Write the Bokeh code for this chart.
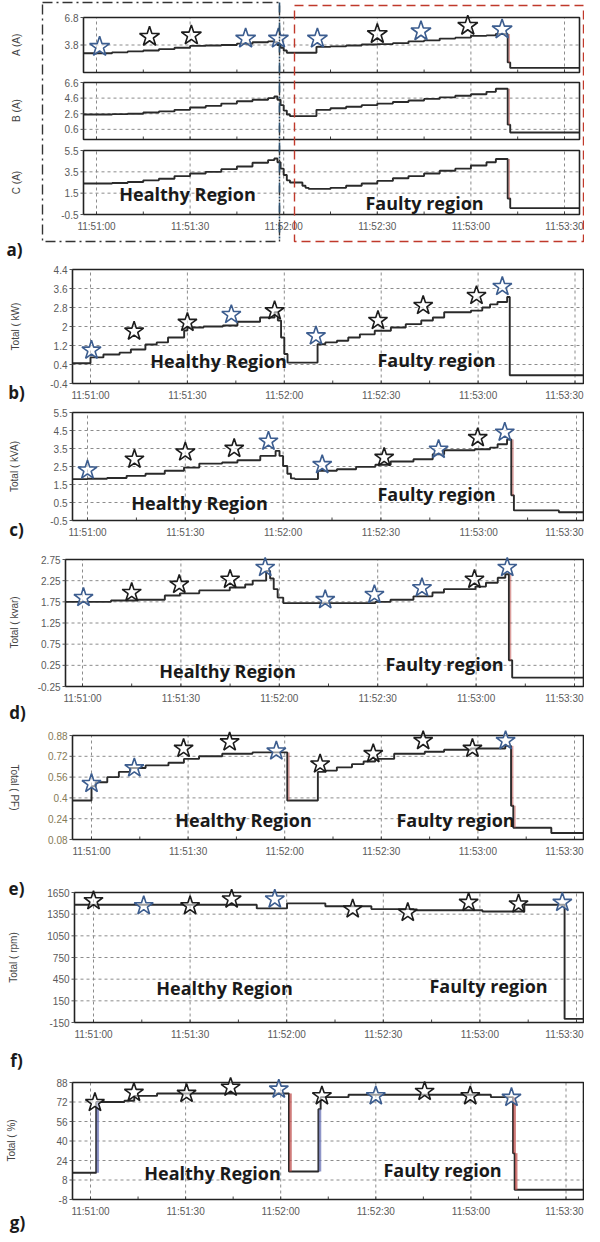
import math
from bokeh.plotting import figure
from bokeh.models import Range1d
from bokeh.embed import file_html
from bokeh.resources import INLINE
from bokeh.core.properties import value

# ---------------- data ----------------
TIME_TICKS = [0, 30, 60, 90, 120, 150]
TIME_LABELS = ["11:51:00", "11:51:30", "11:52:00", "11:52:30", "11:53:00", "11:53:30"]
MINOR_TICKS = [15, 45, 75, 105, 135]

# panel a (phase currents)
A_t = [-4.2, 5, 10, 15, 20, 25, 30, 35, 40, 45, 50, 55, 57, 58, 59, 60, 61, 70.5, 75, 80, 85, 90, 95, 100, 105, 110, 115, 120, 125, 128, 131.8, 132.6, 154.8]
A_v = [2.9, 3.0, 3.1, 3.2, 3.35, 3.5, 3.7, 3.75, 3.8, 3.95, 4.1, 4.2, 4.1, 3.8, 3.5, 3.2, 2.95, 3.6, 3.65, 3.75, 3.85, 3.9, 4.0, 4.2, 4.3, 4.5, 4.6, 4.8, 4.85, 5.0, 1.9, 1.3, 1.3]
B_t = [-4.2, 5, 10, 15, 20, 25, 30, 35, 40, 45, 50, 55, 57, 58, 59, 60, 61, 62, 70.5, 75, 80, 85, 90, 95, 100, 105, 110, 115, 120, 125, 128, 131.8, 132.6, 154.8]
B_v = [2.5, 2.55, 2.6, 2.75, 2.9, 3.1, 3.4, 3.6, 3.9, 4.2, 4.4, 4.6, 4.8, 4.4, 3.7, 3.0, 2.5, 2.3, 3.1, 3.3, 3.5, 3.7, 3.9, 4.1, 4.3, 4.5, 4.7, 4.9, 5.1, 5.4, 5.8, 1.2, 0.2, 0.2]
C_t = [-4.2, 5, 10, 15, 20, 25, 30, 35, 40, 45, 50, 55, 57, 58, 59, 60, 61, 62, 66, 67, 68, 75, 80, 85, 90, 95, 100, 105, 110, 115, 120, 125, 128, 131.8, 132.6, 154.8]
C_v = [2.4, 2.45, 2.55, 2.7, 2.85, 3.1, 3.35, 3.5, 3.75, 4.0, 4.35, 4.6, 4.75, 4.4, 3.8, 3.2, 2.7, 2.5, 2.2, 2.0, 1.9, 2.0, 2.2, 2.4, 2.65, 2.9, 3.1, 3.35, 3.6, 3.8, 4.1, 4.4, 4.7, 1.0, 0.1, 0.1]
A_star_t = [1, 17, 30.4, 47.8, 58.3, 70.8, 90, 104, 119, 130]
A_star_v = [3.6, 4.7, 4.85, 4.5, 4.5, 4.5, 5.0, 5.3, 5.9, 5.5]
A_star_k = list("bkkbbbkbkb")
A_ticks = [3.8, 6.8]
A_tick_labels = ["3.8", "6.8"]
B_ticks = [0.6, 2.6, 4.6, 6.6]
B_tick_labels = ["0.6", "2.6", "4.6", "6.6"]
C_ticks = [-0.5, 1.5, 3.5, 5.5]
C_tick_labels = ["-0.5", "1.5", "3.5", "5.5"]

# panel b (kW)
kW_t = [-5.6, 0, 4, 9, 12.5, 17, 20.5, 24, 29, 30, 35, 41, 45.5, 52.5, 57, 58, 59, 60, 61, 62, 70.3, 72.7, 76.3, 79.8, 83.4, 88, 93, 97.6, 102.4, 106, 109.5, 117.8, 121.3, 123.7, 126, 129, 129.8, 152.6]
kW_v = [0.45, 0.7, 0.82, 0.9, 1.03, 1.24, 1.33, 1.54, 1.83, 1.96, 2.0, 2.04, 2.2, 2.38, 2.6, 2.25, 1.54, 0.84, 0.48, 0.48, 1.25, 1.33, 1.4, 1.54, 1.67, 1.82, 1.96, 2.1, 2.25, 2.38, 2.6, 2.67, 2.8, 2.93, 3.03, 3.24, -0.05, -0.05]
kW_star_t = [0.3, 13.5, 30, 43.6, 57, 69.8, 89, 103, 119.5, 127.5]
kW_star_v = [1.0, 1.8, 2.17, 2.5, 2.66, 1.6, 2.25, 2.88, 3.3, 3.68]
kW_star_k = list("bkkbkbkkkb")
kW_ticks = [-0.4, 0.4, 1.2, 2, 2.8, 3.6, 4.4]
kW_tick_labels = ["-0.4", "0.4", "1.2", "2", "2.8", "3.6", "4.4"]

# panel c (kVA)
kVA_t = [-4.6, 0, 6, 12, 17.8, 23.7, 29.6, 34.3, 41.3, 46, 53, 57.7, 58.9, 60, 61.3, 62.4, 63.6, 70.7, 76.5, 82.4, 88.3, 93, 100, 105.9, 109.4, 118.8, 123.5, 125.8, 128.7, 130, 130.8, 144.6, 152.1]
kVA_v = [1.8, 1.82, 1.86, 1.98, 2.1, 2.26, 2.44, 2.66, 2.72, 2.85, 3.09, 3.37, 3.09, 2.53, 2.1, 1.84, 1.8, 2.26, 2.35, 2.48, 2.6, 2.78, 2.9, 3.18, 3.4, 3.46, 3.55, 3.74, 4.0, 0.9, 0.06, -0.04, -0.04]
kVA_star_t = [0, 14.4, 30, 45, 55.5, 72, 91, 107.7, 119.7, 128]
kVA_star_v = [2.3, 2.9, 3.3, 3.5, 3.9, 2.6, 3.0, 3.45, 4.1, 4.4]
kVA_star_k = list("bkkkbbkbkb")
kVA_ticks = [-0.5, 0.5, 1.5, 2.5, 3.5, 4.5, 5.5]
kVA_tick_labels = ["-0.5", "0.5", "1.5", "2.5", "3.5", "4.5", "5.5"]

# panel d (kvar)
kvar_t = [-5.2, 8.7, 16.9, 25.1, 29.7, 35.6, 44.9, 49.6, 51.9, 56, 57.2, 58.3, 59.5, 61.2, 89.3, 93.9, 100.9, 106.7, 110.2, 119.8, 123, 126.6, 128.9, 130, 131, 152.7]
kvar_v = [1.75, 1.78, 1.8, 1.9, 1.95, 2.02, 2.09, 2.16, 2.25, 2.48, 2.3, 2.05, 1.85, 1.72, 1.75, 1.8, 1.88, 1.97, 2.05, 2.11, 2.2, 2.32, 2.4, 0.37, -0.04, -0.04]
kvar_star_t = [0.3, 15, 29.5, 45, 55.7, 74, 89, 103.5, 119.5, 129.5]
kvar_star_v = [1.85, 1.97, 2.16, 2.28, 2.56, 1.8, 1.92, 2.08, 2.28, 2.56]
kvar_star_k = list("bkkkbbbbkb")
kvar_ticks = [-0.25, 0.25, 0.75, 1.25, 1.75, 2.25, 2.75]
kvar_tick_labels = ["-0.25", "0.25", "0.75", "1.25", "1.75", "2.25", "2.75"]

# panel e (PF)
PF_t = [-5.9, 0, 1.3, 4.9, 8.5, 12, 16.8, 23.9, 28.7, 33.4, 40.6, 50, 60.8, 70.3, 72.6, 76.2, 80.9, 84.5, 88.1, 94, 103.5, 109.5, 117.8, 128.5, 130.3, 131, 142.8, 152.8]
PF_v = [0.38, 0.49, 0.52, 0.56, 0.6, 0.63, 0.65, 0.67, 0.7, 0.72, 0.74, 0.75, 0.38, 0.6, 0.61, 0.635, 0.66, 0.68, 0.7, 0.74, 0.755, 0.77, 0.78, 0.8, 0.34, 0.17, 0.13, 0.13]
PF_star_t = [0, 13.3, 28.6, 42.9, 57.4, 71, 87.5, 103, 118.3, 128.6]
PF_star_v = [0.51, 0.63, 0.78, 0.83, 0.76, 0.66, 0.74, 0.84, 0.78, 0.84]
PF_star_k = list("bbkkbkkkkb")
PF_ticks = [0.08, 0.24, 0.4, 0.56, 0.72, 0.88]
PF_tick_labels = ["0.08", "0.24", "0.4", "0.56", "0.72", "0.88"]

# panel f (rpm)
rpm_t = [-5.9, 50.7, 60.1, 72, 86.3, 99.4, 120.8, 133.8, 146.3, 152.2]
rpm_v = [1480, 1430, 1500, 1460, 1420, 1405, 1387, 1480, -100, -100]
rpm_star_t = [0, 15.6, 30, 42.9, 56.3, 80.5, 97.6, 116.5, 132, 145.6]
rpm_star_v = [1535, 1465, 1465, 1558, 1558, 1420, 1373, 1512, 1490, 1512]
rpm_star_k = list("kbkkbkkkkb")
rpm_ticks = [-150, 150, 450, 750, 1050, 1350, 1650]
rpm_tick_labels = ["-150", "150", "450", "750", "1050", "1350", "1650"]

# panel g (%)
pct_t = [-5.7, 1.8, 10.7, 13.8, 21, 62.6, 71.9, 72.6, 81.4, 126.3, 133.3, 133.8, 155.5]
pct_v = [14, 72, 73, 77, 79, 15, 66, 76, 78, 76, 30, 0, 0]
pct_star_t = [1.4, 13.7, 30.3, 44.2, 59.4, 73, 90, 105.4, 119.8, 132.8]
pct_star_v = [71.5, 79.8, 79, 84, 82.5, 77, 77, 80.6, 77, 75.7]
pct_star_k = list("kkkkbkbkkb")
pct_ticks = [-8, 8, 24, 40, 56, 72, 88]
pct_tick_labels = ["-8", "8", "24", "40", "56", "72", "88"]

# ---------------- style / layout ----------------
W, H = 584, 1234
BLUE = "#3c5d8f"
BLACK = "#1c1c1c"
LINE = "#2a2a2a"
GRID = "#8c8c8c"
TICKC = "#5a5a5a"
TXT_FONT = "Open Sans"
TICK_FONT = "Liberation Sans"
TICK_SIZE = "10px"
LABEL_HALF = 21   # approx. half width of a time label, px

P = figure(width=W, height=H, output_backend="svg", toolbar_location=None,
           x_range=Range1d(0, W), y_range=Range1d(H, 0), min_border=0, title=None,
           x_axis_location=None, y_axis_location=None)
P.grid.visible = False
P.outline_line_color = None
P.background_fill_color = "white"

xr, yr = {}, {}


def gx(xp):
    return xp - 8


def gy(yp):
    return yp - 8


def star_colors(kinds):
    return [BLUE if k == "b" else BLACK for k in kinds]


def add_time_range(key, zero, pxps):
    xr[key] = Range1d((0 - gx(zero)) / pxps, (W - gx(zero)) / pxps)


def add_value_range(key, top, bot, v0, v1):
    T, B = gy(top), gy(bot)
    k = (B - T) / (v1 - v0)
    yr[key] = Range1d(v0 - (H - B) / k, v1 + T / k)


strips = []


def strip(tkey, zero, pxps, vkey, l, r, top, bot, v0, v1, ticks, labels, ts, vs,
          tick_color=TICKC, xlabels=True):
    add_time_range(tkey, zero, pxps)
    add_value_range(vkey, top, bot, v0, v1)
    strips.append(dict(tkey=tkey, zero=zero, pxps=pxps, vkey=vkey, l=l, r=r, top=top, bot=bot,
                       v0=v0, v1=v1, ticks=ticks, labels=labels, ts=ts, vs=vs,
                       tick_color=tick_color, xlabels=xlabels))


def draw_strip(s):
    tkey, vkey = s["tkey"], s["vkey"]
    l, r, top, bot, v0, v1 = s["l"], s["r"], s["top"], s["bot"], s["v0"], s["v1"]
    t_l = (l - s["zero"]) / s["pxps"]
    t_r = (r - s["zero"]) / s["pxps"]
    ticks = s["ticks"]
    inner = [t for t in ticks if v0 < t < v1]
    P.segment(x0=[gx(l)] * len(inner), x1=[gx(r)] * len(inner), y0=inner, y1=inner,
              y_range_name=vkey, line_color=GRID, line_dash="3 3", line_width=1)
    tt = [t for t in TIME_TICKS if t_l < t < t_r]
    P.segment(x0=tt, x1=tt, y0=[v0] * len(tt), y1=[v1] * len(tt), x_range_name=tkey,
              y_range_name=vkey, line_color=GRID, line_dash="3 3", line_width=1)
    allt = [t for t in TIME_TICKS + MINOR_TICKS if t_l < t < t_r]
    P.segment(x0=allt, x1=allt, y0=[gy(bot)] * len(allt), y1=[gy(bot) - 3] * len(allt),
              x_range_name=tkey, line_color="#444", line_width=1)
    P.step(s["ts"], s["vs"], mode="after", x_range_name=tkey, y_range_name=vkey,
           line_color=LINE, line_width=1.9)
    P.quad(left=[gx(l)], right=[gx(r)], top=[gy(top)], bottom=[gy(bot)], fill_color=None,
           line_color="#222", line_width=1.6)
    P.segment(x0=[gx(l) - 3] * len(ticks), x1=[gx(l)] * len(ticks), y0=ticks, y1=ticks,
              y_range_name=vkey, line_color="#555", line_width=1)
    P.text(x=[gx(l) - 5] * len(ticks), y=ticks, text=s["labels"], y_range_name=vkey,
           text_align="right", text_baseline="middle", text_font=value(TICK_FONT),
           text_font_size=TICK_SIZE, text_color=s["tick_color"])
    if s["xlabels"]:
        fit = [t for t in tt if s["zero"] + s["pxps"] * t + LABEL_HALF <= 8 + W]
        edge = [t for t in tt if t not in fit]
        P.text(x=fit, y=[gy(bot) + 12] * len(fit),
               text=[TIME_LABELS[TIME_TICKS.index(t)] for t in fit], x_range_name=tkey,
               text_align="center", text_baseline="middle", text_font=value(TICK_FONT),
               text_font_size=TICK_SIZE, text_color=TICKC)
        if edge:
            P.text(x=[W - 1] * len(edge), y=[gy(bot) + 12] * len(edge),
                   text=[TIME_LABELS[TIME_TICKS.index(t)] for t in edge],
                   text_align="right", text_baseline="middle", text_font=value(TICK_FONT),
                   text_font_size=TICK_SIZE, text_color=TICKC)


def traces(tkey, vkey, ts, vs, min_jump, rises=False, width=1.5, alpha=0.55):
    # coloured step-transition traces derived from the jumps of a series
    jx, jy0, jy1, jc = [], [], [], []
    for i in range(1, len(ts)):
        d = vs[i] - vs[i - 1]
        if d <= -min_jump or (rises and d >= min_jump):
            jx.append(ts[i] + 0.5)
            jy0.append(vs[i - 1])
            jy1.append(vs[i])
            jc.append("#c0504d" if d < 0 else "#6a73b5")
    P.segment(x0=jx, x1=jx, y0=jy0, y1=jy1, x_range_name=tkey, y_range_name=vkey,
              line_color=jc, line_width=width, line_alpha=alpha)


def stars(tkey, vkey, ts, vs, kinds, size=20):
    P.scatter(ts, vs, marker="star", size=size, x_range_name=tkey, y_range_name=vkey,
              line_color=star_colors(kinds), fill_color="white", fill_alpha=0.55, line_width=1.6)


def text(xp, yp, s, size, bold=False, angle=0.0, font=TXT_FONT, color="#1a1a1a"):
    P.text(x=[gx(xp)], y=[gy(yp)], text=[s], angle=angle, text_align="center",
           text_baseline="middle", text_font=value(font), text_font_size=size,
           text_font_style="bold" if bold else "normal", text_color=color)


def ytitle(xp, yp, s, angle=math.pi / 2):
    text(xp, yp, s, "10px", angle=angle, font=TICK_FONT, color="#444")


def region(hx, hy, fx, fy):
    text(hx, hy, "Healthy Region", "18px", bold=True)
    text(fx, fy, "Faulty region", "18px", bold=True)


# panel a strips
strip("ta", 104, 3.12, "A", 91, 587, 25, 80, 0.8, 6.8, A_ticks, A_tick_labels, A_t, A_v, xlabels=False)
strip("ta", 104, 3.12, "B", 91, 587, 90, 147, -0.7, 6.6, B_ticks, B_tick_labels, B_t, B_v, xlabels=False)
strip("ta", 104, 3.12, "C", 91, 587, 158, 222, -0.5, 5.5, C_ticks, C_tick_labels, C_t, C_v)
# panels b..g
strip("tb", 98, 3.23, "kW", 80, 591, 277, 391, -0.4, 4.4, kW_ticks, kW_tick_labels, kW_t, kW_v)
strip("tc", 95, 3.26, "kVA", 80, 591, 420, 528, -0.5, 5.5, kVA_ticks, kVA_tick_labels, kVA_t, kVA_v)
strip("td", 90, 3.28, "kvar", 73, 591, 567, 694, -0.25, 2.75, kvar_ticks, kvar_tick_labels, kvar_t, kvar_v)
strip("te", 99, 3.22, "PF", 80, 591, 743, 847, 0.08, 0.88, PF_ticks, PF_tick_labels, PF_t, PF_v,
      tick_color="#857a55")
strip("tf", 101, 3.22, "rpm", 82, 591, 900, 1030, -150, 1650, rpm_ticks, rpm_tick_labels, rpm_t, rpm_v)
strip("tg", 98, 3.17, "pct", 80, 591, 1090, 1207, -8, 88, pct_ticks, pct_tick_labels, pct_t, pct_v)

P.extra_x_ranges = xr
P.extra_y_ranges = yr

for s in strips:
    draw_strip(s)

# coloured transition traces (derived from the series jumps)
traces("ta", "A", A_t, A_v, 1.5)
traces("ta", "B", B_t, B_v, 1.5)
traces("ta", "C", C_t, C_v, 1.5)
traces("tc", "kVA", kVA_t, kVA_v, 1.5)
traces("td", "kvar", kvar_t, kvar_v, 1.0)
traces("te", "PF", PF_t, PF_v, 0.15)
traces("tg", "pct", pct_t, pct_v, 20, rises=True, width=2.5, alpha=0.75)

# stars
stars("ta", "A", A_star_t, A_star_v, A_star_k, size=21)
stars("tb", "kW", kW_star_t, kW_star_v, kW_star_k)
stars("tc", "kVA", kVA_star_t, kVA_star_v, kVA_star_k)
stars("td", "kvar", kvar_star_t, kvar_star_v, kvar_star_k)
stars("te", "PF", PF_star_t, PF_star_v, PF_star_k)
stars("tf", "rpm", rpm_star_t, rpm_star_v, rpm_star_k)
stars("tg", "pct", pct_star_t, pct_star_v, pct_star_k)

# panel a region boxes
P.quad(left=[gx(50)], right=[gx(287)], top=[gy(10)], bottom=[gy(249)], fill_color=None,
       line_color="#333", line_width=1.4, line_dash="10 4 2 4")
P.segment(x0=[gx(287)], x1=[gx(287)], y0=[gy(10)], y1=[gy(249)],
          line_color="#2b4f6e", line_width=1.6, line_dash="10 4 2 4")
P.quad(left=[gx(302)], right=[gx(591)], top=[gy(13)], bottom=[gy(249)], fill_color=None,
       line_color="#c0392b", line_width=1.4, line_dash="9 5")

# axis titles
ytitle(24, 52, "A (A)")
ytitle(24, 118, "B (A)")
ytitle(24, 190, "C (A)")
ytitle(23, 334, "Total ( kW)")
ytitle(22, 474, "Total ( kVA)")
ytitle(22, 630, "Total ( kvar)")
ytitle(22, 795, "Total ( PF)", angle=-math.pi / 2)
ytitle(21, 965, "Total ( rpm)")
ytitle(19, 1148, "Total ( %)")

# region labels
region(195, 201, 432, 210)
region(226, 368, 444, 367)
region(207, 510, 444, 501)
region(235, 678, 452, 671)
region(251, 827, 463, 827)
region(232, 995, 496, 993)
region(220, 1180, 450, 1177)

# panel letters
text(22, 257, "a)", "17px", bold=True)
text(24, 400, "b)", "17px", bold=True)
text(24, 537, "c)", "17px", bold=True)
text(25, 720, "d)", "17px", bold=True)
text(24, 896, "e)", "17px", bold=True)
text(24, 1068, "f)", "17px", bold=True)
text(25, 1230, "g)", "17px", bold=True)

open("out.html", "w").write(file_html(P, INLINE))
